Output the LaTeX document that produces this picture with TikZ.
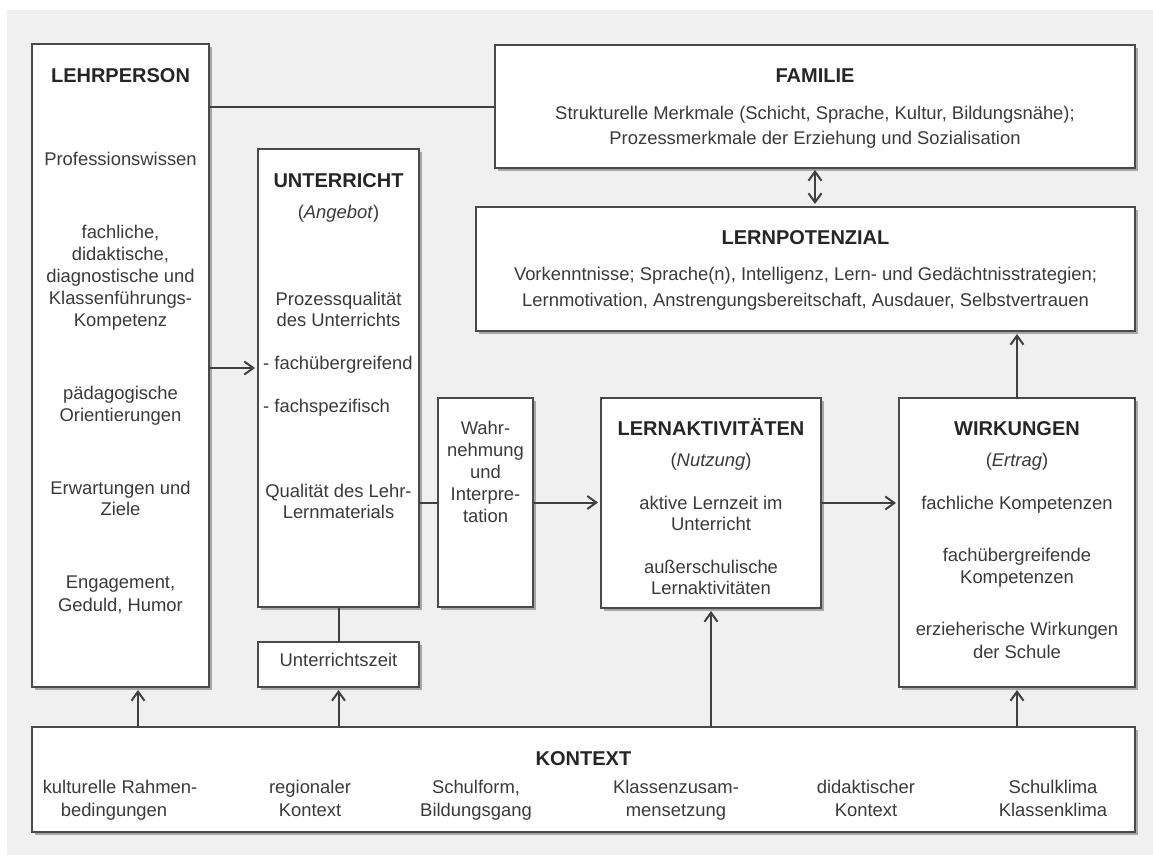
\documentclass[tikz,border=0pt]{standalone}
\usepackage{fontspec}
\setmainfont{Liberation Sans}
\usetikzlibrary{arrows.meta,shadows}
\definecolor{bgc}{HTML}{F0F0F0}
\definecolor{bordc}{HTML}{4A4A4A}
\definecolor{txtc}{HTML}{3A3A3A}
\definecolor{ttlc}{HTML}{262626}
\definecolor{linec}{HTML}{404040}
\tikzset{
  box/.style={draw=bordc, line width=1.4pt, fill=white, inner sep=0pt, outer sep=0pt,
    drop shadow={shadow xshift=2.5pt, shadow yshift=-2.5pt, opacity=0.3, fill=black}},
  body/.style={text=txtc, font=\fontsize{18.4}{22}\selectfont, inner sep=0pt, anchor=base},
  ttl/.style={text=ttlc, font=\fontsize{20}{24}\selectfont\bfseries, inner sep=0pt, anchor=base},
  conn/.style={draw=linec, line width=2pt},
  tipA/.tip={Straight Barb[length=9pt,width=13pt]},
  arr/.style={conn, -tipA, shorten >=3pt},
  darr/.style={conn, tipA-tipA, shorten >=3pt, shorten <=2pt}
}
\newcommand\mybt[4]{\node[body] (#1) at (#2,#3) {#4};}
\newcommand\myttl[4]{\node[ttl] (#1) at (#2,#3) {#4};}
\begin{document}
\begin{tikzpicture}[x=1pt,y=-1pt]
\useasboundingbox (0,0) rectangle (1153,855);
\fill[white] (0,0) rectangle (1153,855);
\fill[bgc] (7,10) rectangle (1153,855);

% boxes
\node[box, minimum width=177pt, minimum height=643pt] (lehr) at (120.5,365.5) {};
\node[box, minimum width=640pt, minimum height=123pt] (fam) at (815,106.5) {};
\node[box, minimum width=659pt, minimum height=124pt] (lpot) at (805.5,269) {};
\node[box, minimum width=161pt, minimum height=458pt] (unt) at (338.5,378) {};
\node[box, minimum width=161pt, minimum height=45pt] (uzeit) at (338.5,664.5) {};
\node[box, minimum width=95pt, minimum height=209pt] (wahr) at (485.5,502.5) {};
\node[box, minimum width=220pt, minimum height=210pt] (lakt) at (711,503) {};
\node[box, minimum width=236pt, minimum height=289pt] (wirk) at (1017,542.5) {};
\node[box, minimum width=1103pt, minimum height=105pt] (kont) at (583.5,779.5) {};

% LEHRPERSON
\myttl{tlehr}{120.5}{82}{LEHRPERSON}
\mybt{l1}{120.5}{165}{Professionswissen}
\mybt{l2}{120.5}{238}{fachliche,}
\mybt{l3}{120.5}{260}{didaktische,}
\mybt{l4}{120.5}{282}{diagnostische und}
\mybt{l5}{120.5}{304}{Klassenführungs-}
\mybt{l6}{120.5}{326}{Kompetenz}
\mybt{l7}{120.5}{399}{pädagogische}
\mybt{l8}{120.5}{421}{Orientierungen}
\mybt{l9}{120.5}{494}{Erwartungen und}
\mybt{l10}{120.5}{515}{Ziele}
\mybt{l11}{120.5}{588}{Engagement,}
\mybt{l12}{120.5}{611}{Geduld, Humor}

% UNTERRICHT
\myttl{tunt}{338.5}{187}{UNTERRICHT}
\mybt{u1}{338.5}{218}{(\textit{Angebot})}
\mybt{u2}{338.5}{305}{Prozessqualität}
\mybt{u3}{338.5}{326}{des Unterrichts}
\node[body, anchor=base west] (u4) at (263,369) {- fachübergreifend};
\node[body, anchor=base west] (u5) at (263,412) {- fachspezifisch};
\mybt{u6}{338.5}{497}{Qualität des Lehr-}
\mybt{u7}{338.5}{518}{Lernmaterials}
\mybt{uz}{338.5}{666}{Unterrichtszeit}

% Wahrnehmung
\mybt{w1}{485.5}{434}{Wahr-}
\mybt{w2}{485.5}{456}{nehmung}
\mybt{w3}{485.5}{478}{und}
\mybt{w4}{485.5}{500}{Interpre-}
\mybt{w5}{485.5}{522}{tation}

% LERNAKTIVITAETEN
\myttl{tlakt}{711}{435}{LERNAKTIVITÄTEN}
\mybt{a1}{711}{466}{(\textit{Nutzung})}
\mybt{a2}{711}{509}{aktive Lernzeit im}
\mybt{a3}{711}{530}{Unterricht}
\mybt{a4}{711}{573}{außerschulische}
\mybt{a5}{711}{594}{Lernaktivitäten}

% WIRKUNGEN
\myttl{twirk}{1017}{435}{WIRKUNGEN}
\mybt{k1}{1017}{466}{(\textit{Ertrag})}
\mybt{k2}{1017}{509}{fachliche Kompetenzen}
\mybt{k3}{1017}{561}{fachübergreifende}
\mybt{k4}{1017}{583}{Kompetenzen}
\mybt{k5}{1017}{635}{erzieherische Wirkungen}
\mybt{k6}{1017}{658}{der Schule}

% FAMILIE
\myttl{tfam}{815}{82}{FAMILIE}
\mybt{f1}{815}{119}{Strukturelle Merkmale (Schicht, Sprache, Kultur, Bildungsnähe);}
\mybt{f2}{815}{144}{Prozessmerkmale der Erziehung und Sozialisation}

% LERNPOTENZIAL
\myttl{tlpot}{805.5}{244}{LERNPOTENZIAL}
\mybt{p1}{805.5}{280}{Vorkenntnisse; Sprache(n), Intelligenz, Lern- und Gedächtnisstrategien;}
\mybt{p2}{805.5}{306}{Lernmotivation, Anstrengungsbereitschaft, Ausdauer, Selbstvertrauen}

% KONTEXT
\myttl{tkont}{583.5}{765}{KONTEXT}
\mybt{c1}{120}{793}{kulturelle Rahmen-}
\mybt{c2}{114}{816}{bedingungen}
\mybt{c3}{310}{793}{regionaler}
\mybt{c4}{310}{816}{Kontext}
\mybt{c5}{476}{793}{Schulform,}
\mybt{c6}{476}{816}{Bildungsgang}
\mybt{c7}{676}{793}{Klassenzusam-}
\mybt{c8}{676}{816}{mensetzung}
\mybt{c9}{866}{793}{didaktischer}
\mybt{c10}{866}{816}{Kontext}
\mybt{c11}{1053}{793}{Schulklima}
\mybt{c12}{1053}{816}{Klassenklima}

% connectors
\coordinate (yA) at (0,368);
\coordinate (xA) at (138,0);
\draw[conn] (fam.west -| lehr.east) -- (fam.west);
\draw[arr] (yA -| lehr.east) -- (yA -| unt.west);
\draw[conn] (unt.south) -- (uzeit.north);
\draw[conn] (wahr.west -| unt.east) -- (wahr.west);
\draw[arr] (wahr.east) -- (wahr.east -| lakt.west);
\draw[arr] (lakt.east) -- (lakt.east -| wirk.west);
\draw[arr] (wirk.north) -- (wirk.north |- lpot.south);
\draw[darr] (fam.south) -- (fam.south |- lpot.north);
\draw[arr] (xA |- kont.north) -- (xA |- lehr.south);
\draw[arr] (uzeit.south |- kont.north) -- (uzeit.south);
\draw[arr] (lakt.south |- kont.north) -- (lakt.south);
\draw[arr] (wirk.south |- kont.north) -- (wirk.south);
\end{tikzpicture}
\end{document}
